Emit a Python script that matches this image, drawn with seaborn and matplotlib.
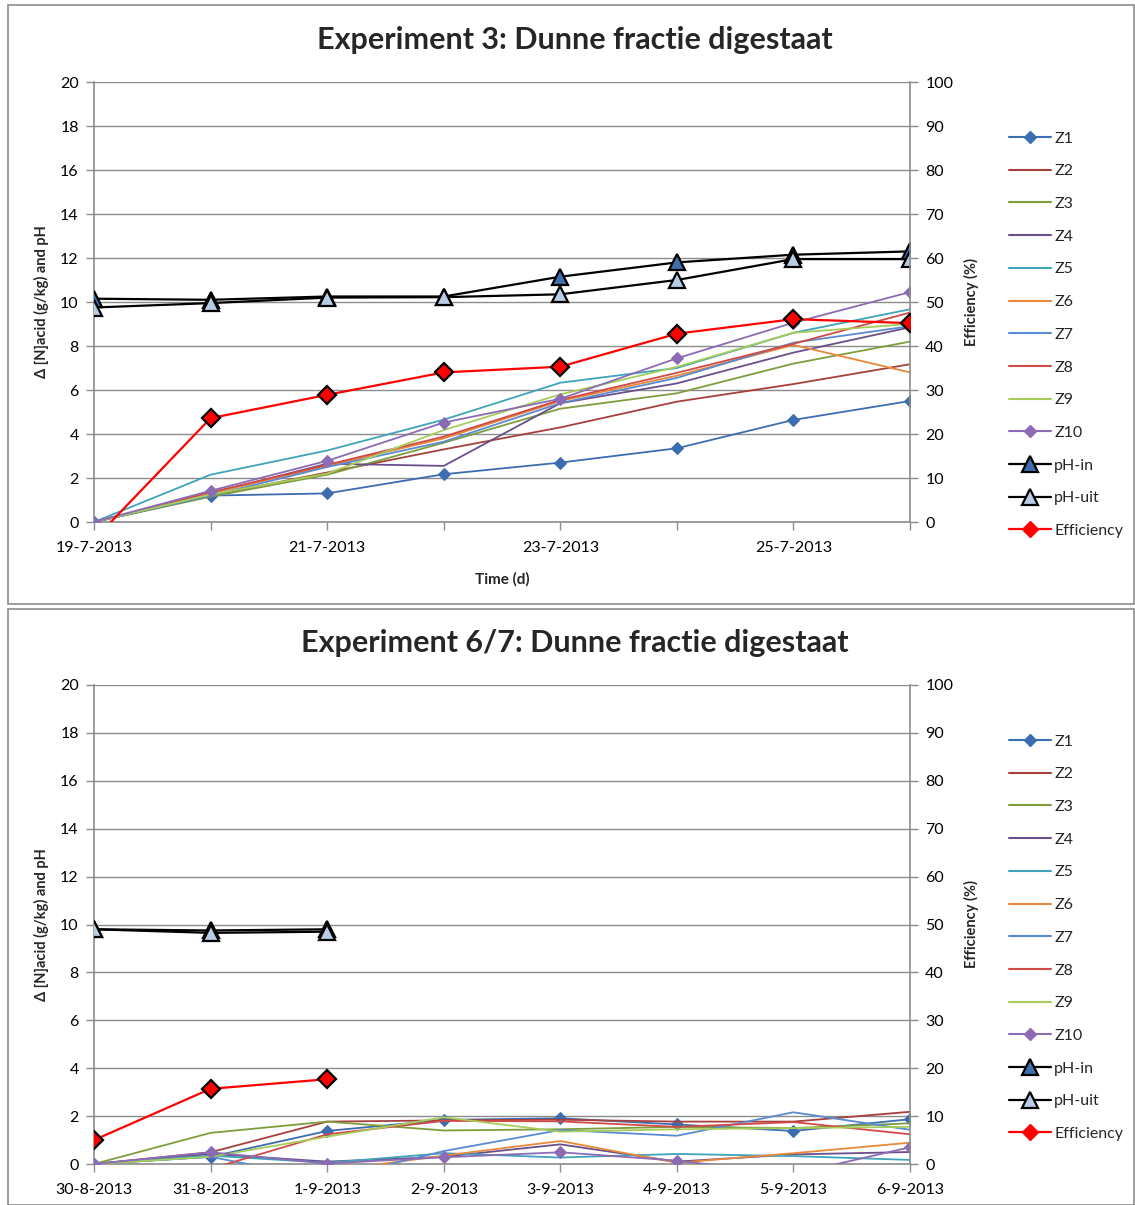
import numpy as np
import pandas as pd
import matplotlib
matplotlib.use('Agg')
import matplotlib.pyplot as plt
from matplotlib.lines import Line2D
from matplotlib.patches import Rectangle
import seaborn as sns

sns.set_theme(style='white')
plt.rcParams['font.family'] = ['Lato', 'DejaVu Sans']

# ---------------- data ----------------
top_title = "Experiment 3: Dunne fractie digestaat"
bottom_title = "Experiment 6/7: Dunne fractie digestaat"

top_dates = ['19-7-2013', '20-7-2013', '21-7-2013', '22-7-2013',
             '23-7-2013', '24-7-2013', '25-7-2013', '26-7-2013']
top_tick_labels = ['19-7-2013', '', '21-7-2013', '', '23-7-2013', '', '25-7-2013', '']
bottom_dates = ['30-8-2013', '31-8-2013', '1-9-2013', '2-9-2013',
                '3-9-2013', '4-9-2013', '5-9-2013', '6-9-2013']

series_names = ['Z1', 'Z2', 'Z3', 'Z4', 'Z5', 'Z6', 'Z7', 'Z8', 'Z9', 'Z10']

top_Z1 = [0, 1.2, 1.3, 2.17, 2.7, 3.35, 4.64, 5.5]
top_Z2 = [0, 1.2, 2.25, 3.3, 4.3, 5.47, 6.27, 7.17]
top_Z3 = [0, 1.15, 2.15, 3.6, 5.15, 5.85, 7.2, 8.2]
top_Z4 = [0, 1.3, 2.65, 2.55, 5.4, 6.3, 7.7, 8.85]
top_Z5 = [0, 2.15, 3.25, 4.65, 6.33, 7.0, 8.6, 9.67]
top_Z6 = [0, 1.3, 2.55, 3.8, 5.5, 6.65, 8.05, 6.8]
top_Z7 = [0, 1.2, 2.5, 3.65, 5.4, 6.55, 8.15, 8.9]
top_Z8 = [0, 1.35, 2.6, 3.88, 5.55, 6.78, 8.1, 9.52]
top_Z9 = [0, 1.25, 2.2, 4.18, 5.8, 7.05, 8.6, 9.0]
top_Z10 = [0, 1.42, 2.78, 4.52, 5.6, 7.44, 9.06, 10.45]
top_pH_in = [10.15, 10.1, 10.25, 10.25, 11.15, 11.8, 12.15, 12.3]
top_pH_uit = [9.75, 9.95, 10.2, 10.22, 10.35, 11.0, 11.95, 11.95]
top_eff = [-4, 23.6, 28.9, 34.0, 35.3, 42.8, 46.1, 45.2]

bot_Z1 = [0, 0.3, 1.38, 1.84, 1.91, 1.65, 1.38, 1.87]
bot_Z2 = [0, 0.49, 1.77, 1.82, 1.85, 1.77, 1.77, 2.18]
bot_Z3 = [0, 1.3, 1.77, 1.4, 1.45, 1.55, 1.5, 1.7]
bot_Z4 = [0, 0.42, 0.1, 0.3, 0.82, 0.1, 0.4, 0.5]
bot_Z5 = [0, 0.35, 0.05, 0.45, 0.27, 0.42, 0.33, 0.17]
bot_Z6 = [0, -0.3, -0.3, 0.35, 0.96, 0.05, 0.45, 0.89]
bot_Z7 = [0, 0.3, -0.65, 0.54, 1.42, 1.18, 2.16, 1.43]
bot_Z8 = [0, -0.2, 1.24, 1.8, 1.78, 1.55, 1.75, 1.24]
bot_Z9 = [0, 0.3, 1.14, 1.95, 1.35, 1.45, 1.5, 1.55]
bot_Z10 = [0, 0.49, 0.02, 0.28, 0.49, 0.14, -0.42, 0.7]
bot_pH_in = [9.8, 9.75, 9.8]
bot_pH_uit = [9.8, 9.65, 9.7]
bot_eff = [5.0, 15.7, 17.7]

top_Z = [top_Z1, top_Z2, top_Z3, top_Z4, top_Z5, top_Z6, top_Z7, top_Z8, top_Z9, top_Z10]
bot_Z = [bot_Z1, bot_Z2, bot_Z3, bot_Z4, bot_Z5, bot_Z6, bot_Z7, bot_Z8, bot_Z9, bot_Z10]

# ---------------- styles ----------------
z_colors = ['#3C6DB0', '#A5403C', '#7E9E3E', '#6A4F8C', '#3FA3BA',
            '#E8883A', '#5A8AD0', '#D04A47', '#A6CC5A', '#8C6BB4']
z_markers = ['D', None, None, None, None, None, None, None, None, 'D']
grid_col = '#8C8C8C'
ph_in_fill = '#3F6DAE'
ph_uit_fill = '#B8CCE4'
eff_col = '#FF0000'

W, H = 1135, 1205
fig = plt.figure(figsize=(W / 100, H / 100), dpi=100)

# chart frames
fig.add_artist(Rectangle((8 / W, 1 - 604 / H), (W - 9) / W, 599 / H, transform=fig.transFigure,
                         fill=False, edgecolor='#8C8C8C', lw=1.2))
fig.add_artist(Rectangle((8 / W, 0), (W - 9) / W, 1 - 609 / H, transform=fig.transFigure,
                         fill=False, edgecolor='#8C8C8C', lw=1.2))


def make_panel(px_top, px_bottom, title, title_y, dates, ticklabels, zs, ph_in, ph_uit, eff,
               xlabel, legend_top):
    ax = fig.add_axes([94 / W, 1 - px_bottom / H, 816 / W, (px_bottom - px_top) / H])
    ax2 = ax.twinx()
    x = np.arange(len(dates))
    for name, vals, col, mk in zip(series_names, zs, z_colors, z_markers):
        df = pd.DataFrame({'x': x, 'y': vals})
        sns.lineplot(data=df, x='x', y='y', ax=ax, color=col, linewidth=1.3,
                     marker=mk, markersize=6, markeredgecolor=col, legend=False, zorder=3)
    xp = np.arange(len(ph_in))
    sns.lineplot(x=xp, y=ph_in, ax=ax, color='black', linewidth=1.6, marker='^',
                 markersize=11, markerfacecolor=ph_in_fill, markeredgecolor='black',
                 markeredgewidth=1.6, legend=False, zorder=5)
    sns.lineplot(x=np.arange(len(ph_uit)), y=ph_uit, ax=ax, color='black', linewidth=1.6,
                 marker='^', markersize=11, markerfacecolor=ph_uit_fill,
                 markeredgecolor='black', markeredgewidth=1.6, legend=False, zorder=5)
    sns.lineplot(x=np.arange(len(eff)), y=eff, ax=ax2, color=eff_col, linewidth=1.6,
                 marker='D', markersize=9, markerfacecolor=eff_col, markeredgecolor='black',
                 markeredgewidth=1.6, legend=False, zorder=5)

    ax.set_xlim(0, len(dates) - 1)
    ax.set_ylim(0, 20)
    ax2.set_ylim(0, 100)
    ax.set_yticks(np.arange(0, 21, 2))
    ax2.set_yticks(np.arange(0, 101, 10))
    ax.set_xticks(x)
    ax.set_xticklabels(ticklabels)
    ax.yaxis.grid(True, color=grid_col, lw=1.0)
    ax.set_axisbelow(True)
    for a in (ax, ax2):
        for s in a.spines.values():
            s.set_visible(False)
    ax.spines['left'].set_visible(True)
    ax.spines['bottom'].set_visible(True)
    ax2.spines['right'].set_visible(True)
    for s in (ax.spines['left'], ax.spines['bottom'], ax2.spines['right']):
        s.set_color(grid_col)
        s.set_linewidth(1.2)
    ax.tick_params(axis='both', which='major', direction='out', length=6, color=grid_col,
                   width=1.0, labelsize=11.5, labelcolor='black', left=True, bottom=True)
    ax.tick_params(axis='x', pad=8)
    ax.tick_params(axis='y', pad=5)
    ax2.tick_params(axis='y', direction='out', length=6, color=grid_col, width=1.0,
                    labelsize=11.5, labelcolor='black', pad=5, right=True)
    ax.set_xlabel(xlabel, fontsize=11, fontweight='bold', labelpad=12)
    ax.set_ylabel('Δ [N]acid (g/kg) and pH', fontsize=10.5, fontweight='bold', labelpad=8)
    ax2.set_ylabel('Efficiency (%)', fontsize=10.5, fontweight='bold', labelpad=8)
    fig.text(575 / W, 1 - title_y / H, title, ha='center', va='center', fontsize=22,
             fontweight='bold')

    handles = []
    for name, col, mk in zip(series_names, z_colors, z_markers):
        handles.append(Line2D([], [], color=col, lw=1.5, marker=mk, markersize=6,
                              markeredgecolor=col, label=name))
    handles.append(Line2D([], [], color='black', lw=1.6, marker='^', markersize=11,
                          markerfacecolor=ph_in_fill, markeredgecolor='black',
                          markeredgewidth=1.6, label='pH-in'))
    handles.append(Line2D([], [], color='black', lw=1.6, marker='^', markersize=11,
                          markerfacecolor=ph_uit_fill, markeredgecolor='black',
                          markeredgewidth=1.6, label='pH-uit'))
    handles.append(Line2D([], [], color=eff_col, lw=1.6, marker='D', markersize=8,
                          markerfacecolor=eff_col, markeredgecolor=eff_col,
                          label='Efficiency'))
    fig.legend(handles=handles, loc='upper left', bbox_to_anchor=(1003 / W, 1 - legend_top / H),
               frameon=False, fontsize=11.5, handlelength=2.6, handletextpad=0.2,
               labelspacing=1.16, borderaxespad=0)
    return ax, ax2


make_panel(82, 522, top_title, 40, top_dates, top_tick_labels, top_Z,
           top_pH_in, top_pH_uit, top_eff, 'Time (d)', 125)
make_panel(685, 1164, bottom_title, 643, bottom_dates, bottom_dates, bot_Z,
           bot_pH_in, bot_pH_uit, bot_eff, '', 728)

fig.savefig('out.png', dpi=100)
